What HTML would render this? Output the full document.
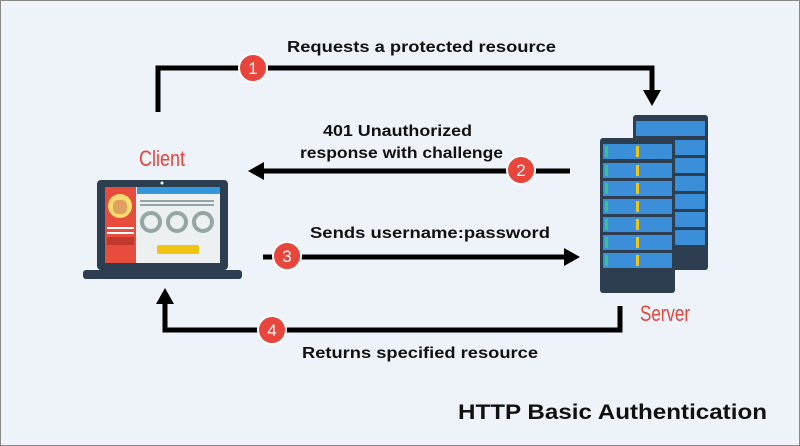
<!DOCTYPE html>
<html><head><style>
body{margin:0;width:800px;height:446px;overflow:hidden;background:#fff}
svg{display:block}
text{font-family:"Liberation Sans",sans-serif}
</style></head><body>
<svg width="800" height="446" viewBox="0 0 800 446">
<rect x="0.5" y="0.5" width="799" height="445" fill="#edf3f9" stroke="#888"/>
<g font-weight="bold" font-size="16" fill="#111" lengthAdjust="spacingAndGlyphs">
<text x="287" y="52" textLength="269" lengthAdjust="spacingAndGlyphs">Requests a protected resource</text>
<text x="323" y="136" textLength="149" lengthAdjust="spacingAndGlyphs">401 Unauthorized</text>
<text x="300" y="158" textLength="203" lengthAdjust="spacingAndGlyphs">response with challenge</text>
<text x="310" y="238" textLength="240" lengthAdjust="spacingAndGlyphs">Sends username:password</text>
<text x="302" y="358" textLength="236" lengthAdjust="spacingAndGlyphs">Returns specified resource</text>
<text x="458" y="419" font-size="21" textLength="309" lengthAdjust="spacingAndGlyphs">HTTP Basic Authentication</text>
</g>
<g font-size="22" fill="#e8453c">
<text x="139" y="166" textLength="46" lengthAdjust="spacingAndGlyphs">Client</text>
<text x="640" y="321" textLength="50" lengthAdjust="spacingAndGlyphs">Server</text>
</g>
<g stroke="#000" stroke-width="5" fill="none">
<polyline points="158,112 158,68 652,68 652,92"/>
<line x1="570" y1="171" x2="262" y2="171"/>
<line x1="263" y1="257" x2="566" y2="257"/>
<polyline points="620,306 620,330 165,330 165,302"/>
</g>
<g fill="#000">
<polygon points="643,90 661,90 652,106"/>
<polygon points="264,162 264,180 248,171"/>
<polygon points="564,248 564,266 580,257"/>
<polygon points="156,304 174,304 165,288"/>
</g>
<g fill="#e8453c" stroke="#fff" stroke-width="2">
<circle cx="253" cy="68" r="14"/><circle cx="521" cy="170" r="14"/>
<circle cx="287" cy="256" r="14"/><circle cx="272" cy="330" r="14"/>
</g>
<g fill="#fff" font-size="17" text-anchor="middle">
<text x="253" y="74">1</text><text x="521" y="176">2</text>
<text x="287" y="262">3</text><text x="272" y="336">4</text>
</g>
<!-- laptop -->
<rect x="97" y="180" width="131" height="90" rx="4" fill="#2c3e50"/>
<rect x="105" y="187" width="115" height="76" fill="#ecf0f1"/>
<rect x="105" y="187" width="31" height="76" fill="#e74c3c"/>
<rect x="137" y="187" width="83" height="7" fill="#3498db"/>
<circle cx="120" cy="206" r="12" fill="#f7dc6f"/>
<rect x="113" y="200" width="14" height="14" rx="5" fill="#e0a060"/>
<rect x="107" y="227" width="27" height="2" fill="#fff"/>
<rect x="107" y="232" width="27" height="2" fill="#fff"/>
<rect x="107" y="237" width="27" height="8" fill="#c0392b"/>
<rect x="140" y="200" width="74" height="2" fill="#95a5a6"/>
<rect x="140" y="204" width="74" height="2" fill="#95a5a6"/>
<g fill="none" stroke="#95a5a6" stroke-width="4"><circle cx="151" cy="222" r="9"/><circle cx="177" cy="222" r="9"/><circle cx="203" cy="222" r="9"/></g>
<rect x="157" y="245" width="42" height="9" rx="2" fill="#f1c40f"/>
<rect x="83" y="270" width="159" height="9" rx="3" fill="#2c3e50"/>
<circle cx="162" cy="183" r="1.5" fill="#fff"/>
<!-- servers -->
<g>
<rect x="633" y="115" width="75" height="155" rx="3" fill="#2c3e50"/>
<g fill="#3a8fd8">
<rect x="636" y="121" width="69" height="15"/><rect x="636" y="140" width="69" height="15"/><rect x="636" y="158" width="69" height="15"/><rect x="636" y="176" width="69" height="15"/><rect x="636" y="194" width="69" height="15"/><rect x="636" y="212" width="69" height="15"/><rect x="636" y="230" width="69" height="15"/>
</g>
<rect x="600" y="138" width="75" height="155" rx="3" fill="#2c3e50"/>
<g fill="#3a8fd8">
<rect x="603" y="144" width="69" height="15"/><rect x="603" y="163" width="69" height="15"/><rect x="603" y="181" width="69" height="15"/><rect x="603" y="199" width="69" height="15"/><rect x="603" y="217" width="69" height="15"/><rect x="603" y="235" width="69" height="15"/><rect x="603" y="253" width="69" height="15"/>
</g>
<g fill="#2ecc71">
<rect x="605" y="146" width="3" height="11"/><rect x="605" y="165" width="3" height="11"/><rect x="605" y="183" width="3" height="11"/><rect x="605" y="201" width="3" height="11"/><rect x="605" y="219" width="3" height="11"/><rect x="605" y="237" width="3" height="11"/><rect x="605" y="255" width="3" height="11"/>
</g>
<g fill="#f1c40f">
<rect x="636" y="146" width="3" height="11"/><rect x="636" y="165" width="3" height="11"/><rect x="636" y="183" width="3" height="11"/><rect x="636" y="201" width="3" height="11"/><rect x="636" y="219" width="3" height="11"/><rect x="636" y="237" width="3" height="11"/><rect x="636" y="255" width="3" height="11"/>
</g>
</g>
</svg>
</body></html>
